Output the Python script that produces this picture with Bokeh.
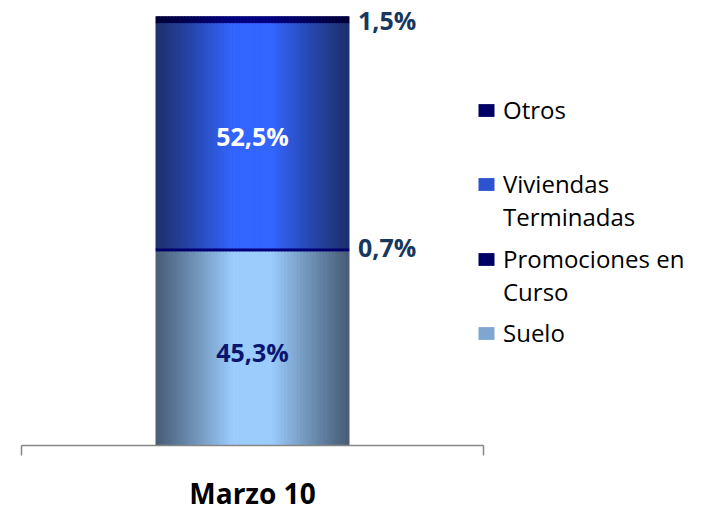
from bokeh.plotting import figure
from bokeh.models import (Range1d, LinearAxis, FixedTicker, ColumnDataSource,
                          Legend, LegendItem)
from bokeh.core.properties import value
from bokeh.embed import file_html
from bokeh.resources import INLINE

# ---- data ----
categories = ["Marzo 10"]
series = ["Suelo", "Promociones en Curso", "Viviendas Terminadas", "Otros"]
suelo = [45.3]
promociones = [0.7]
viviendas = [52.5]
otros = [1.5]
value_labels = {"Suelo": "45,3%", "Promociones en Curso": "0,7%",
                "Viviendas Terminadas": "52,5%", "Otros": "1,5%"}
legend_lines = {"Otros": ["Otros"], "Viviendas Terminadas": ["Viviendas", "Terminadas"],
                "Promociones en Curso": ["Promociones en", "Curso"], "Suelo": ["Suelo"]}

# ---- styles ----
edge_cols = {"Suelo": (0x48, 0x5E, 0x77), "Promociones en Curso": (0x00, 0x00, 0x6A),
             "Viviendas Terminadas": (0x1E, 0x30, 0x6E), "Otros": (0x00, 0x00, 0x38)}
center_cols = {"Suelo": (0x9C, 0xCD, 0xFD), "Promociones en Curso": (0x00, 0x00, 0x80),
               "Viviendas Terminadas": (0x33, 0x66, 0xFF), "Otros": (0x00, 0x00, 0x80)}
legend_cols = {"Suelo": "#7EA6D0", "Promociones en Curso": "#000066",
               "Viviendas Terminadas": "#2B52D0", "Otros": "#000066"}
label_cols = {"Suelo": "#0B1670", "Promociones en Curso": "#17375E",
              "Viviendas Terminadas": "#FFFFFF", "Otros": "#17375E"}
label_dy = {"Suelo": 4, "Promociones en Curso": -3, "Viviendas Terminadas": 0, "Otros": 0}
BAR_W = 0.418
N_STRIPS = 60
FONT = "Open Sans"

def hexc(c):
    return "#%02x%02x%02x" % tuple(int(round(v)) for v in c)

PX_X = 462.0
PX_Y = 4.29
LEFT = 21
FRAME_W = 704 - LEFT
FRAME_H = 445

p = figure(width=704, height=514, output_backend="svg", toolbar_location=None,
           x_range=Range1d(0, FRAME_W / PX_X), y_range=Range1d(0, FRAME_H / PX_Y),
           x_axis_location=None, y_axis_location=None,
           min_border_left=LEFT, min_border_right=0, min_border_top=0,
           min_border_bottom=514 - FRAME_H)
p.outline_line_color = None
p.xgrid.visible = False
p.ygrid.visible = False
p.background_fill_color = "white"

xs = [i + 0.5 for i in range(len(categories))]
vals = {"Suelo": suelo, "Promociones en Curso": promociones,
        "Viviendas Terminadas": viviendas, "Otros": otros}

# base stacked bars (used by legend)
base = {}
bottom = [0.0] * len(categories)
for s in series:
    top = [b + v for b, v in zip(bottom, vals[s])]
    base[s] = dict(bottom=list(bottom), top=top)
    r = p.vbar(x=xs, bottom=list(bottom), top=top, width=BAR_W,
               fill_color=legend_cols[s], line_color=None)
    base[s]["renderer"] = r
    bottom = top

# gradient strips over the bars
sx, sb, st, sc = [], [], [], []
dw = BAR_W / N_STRIPS
for s in series:
    e, c = edge_cols[s], center_cols[s]
    for ci, xc in enumerate(xs):
        for k in range(N_STRIPS):
            u = (k + 0.5) / N_STRIPS
            t = 1 - abs(2 * u - 1)
            t = min(1.0, t * 1.25) ** 1.1
            col = tuple(e[j] + (c[j] - e[j]) * t for j in range(3))
            sx.append(xc - BAR_W / 2 + (k + 0.5) * dw)
            sb.append(base[s]["bottom"][ci])
            st.append(base[s]["top"][ci])
            sc.append(hexc(col))
p.vbar(x="x", bottom="b", top="t", width=dw * 1.15, fill_color="c", line_color="c",
       line_width=0.3, source=ColumnDataSource(dict(x=sx, b=sb, t=st, c=sc)))

# value labels
for s in series:
    for ci, xc in enumerate(xs):
        mid = (base[s]["bottom"][ci] + base[s]["top"][ci]) / 2
        inside = s in ("Suelo", "Viviendas Terminadas")
        p.text(x=[xc if inside else xc + BAR_W / 2], y=[mid], text=[value_labels[s]],
               x_offset=0 if inside else 9, y_offset=label_dy[s],
               text_align="center" if inside else "left", text_baseline="middle",
               text_font=value(FONT), text_font_style="bold", text_font_size="25px",
               text_color=label_cols[s])

# category axis with end ticks
xaxis = LinearAxis(ticker=FixedTicker(ticks=xs, minor_ticks=[0, len(categories)]),
                   bounds=(0, len(categories)),
                   major_label_overrides={x: c for x, c in zip(xs, categories)})
xaxis.axis_line_color = "#868686"
xaxis.axis_line_width = 1.5
xaxis.major_tick_line_color = None
xaxis.major_tick_in = 0
xaxis.major_tick_out = 0
xaxis.minor_tick_in = 0
xaxis.minor_tick_out = 10
xaxis.minor_tick_line_color = "#868686"
xaxis.minor_tick_line_width = 1.5
xaxis.major_label_standoff = 18
xaxis.major_label_text_font = FONT
xaxis.major_label_text_font_style = "bold"
xaxis.major_label_text_font_size = "28px"
xaxis.major_label_text_color = "#000000"
p.add_layout(xaxis, "below")

# legend: one box per entry, second lines as text-only items
legend_order = ["Otros", "Viviendas Terminadas", "Promociones en Curso", "Suelo"]
legend_pos = {"Otros": 319, "Viviendas Terminadas": 212, "Promociones en Curso": 137, "Suelo": 96}
for s in legend_order:
    lines = legend_lines[s]
    items = [LegendItem(label=lines[0], renderers=[base[s]["renderer"]])]
    for ln in lines[1:]:
        items.append(LegendItem(label=ln, renderers=[]))
    lg = Legend(items=items, location=(455, legend_pos[s]))
    lg.border_line_color = None
    lg.background_fill_alpha = 0
    lg.padding = 0
    lg.margin = 0
    lg.spacing = 0
    lg.glyph_width = 20
    lg.glyph_height = 16
    lg.label_standoff = 7
    lg.label_text_font = FONT
    lg.label_text_font_size = "24px"
    lg.label_text_color = "#000000"
    p.add_layout(lg, "center")

open("out.html", "w").write(file_html(p, INLINE))
